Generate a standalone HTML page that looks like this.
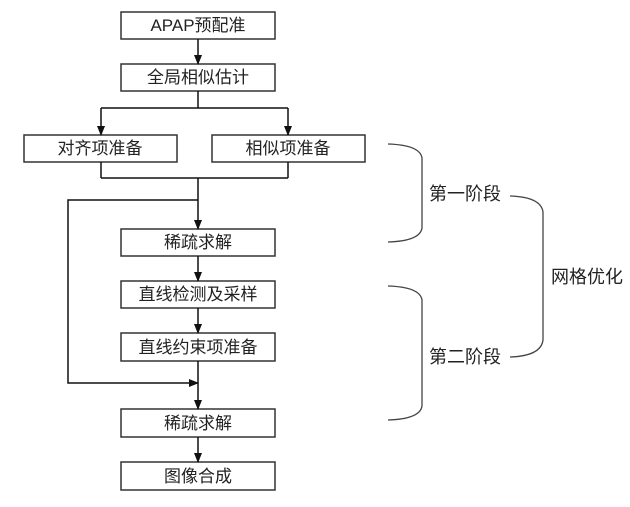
<!DOCTYPE html>
<html><head><meta charset="utf-8"><style>
html,body{margin:0;padding:0;background:#fff;width:630px;height:507px;overflow:hidden}
svg text{font-family:"Liberation Sans","Noto Sans CJK SC",sans-serif;fill:#222}
</style></head><body>
<svg width="630" height="507" viewBox="0 0 630 507" xmlns="http://www.w3.org/2000/svg">
<defs><marker id="a" markerWidth="10" markerHeight="10" refX="9" refY="5" orient="auto" markerUnits="userSpaceOnUse"><path d="M0,1 L10,5 L0,9 z" fill="#111"/></marker></defs>
<g fill="#fff" stroke="#333" stroke-width="1.5">
<rect x="121" y="12" width="154" height="27"/>
<rect x="121" y="64" width="154" height="27"/>
<rect x="24" y="135" width="153" height="27"/>
<rect x="212" y="135" width="153" height="27"/>
<rect x="121" y="229" width="154" height="27"/>
<rect x="121" y="281" width="154" height="27"/>
<rect x="121" y="333" width="154" height="28"/>
<rect x="121" y="409" width="154" height="28"/>
<rect x="121" y="462" width="154" height="28"/>
</g>
<g stroke="#111" stroke-width="1.5" fill="none">
<line x1="198" y1="39" x2="198" y2="64" marker-end="url(#a)"/>
<line x1="198" y1="91" x2="198" y2="108"/>
<line x1="101" y1="108" x2="288" y2="108"/>
<line x1="101" y1="108" x2="101" y2="135" marker-end="url(#a)"/>
<line x1="288" y1="108" x2="288" y2="135" marker-end="url(#a)"/>
<line x1="101" y1="162" x2="101" y2="178"/>
<line x1="288" y1="162" x2="288" y2="178"/>
<line x1="101" y1="178" x2="288" y2="178"/>
<line x1="198" y1="178" x2="198" y2="229" marker-end="url(#a)"/>
<polyline points="198,200 68,200 68,383 198,383" marker-end="url(#a)"/>
<line x1="198" y1="256" x2="198" y2="281" marker-end="url(#a)"/>
<line x1="198" y1="308" x2="198" y2="333" marker-end="url(#a)"/>
<line x1="198" y1="361" x2="198" y2="409" marker-end="url(#a)"/>
<line x1="198" y1="437" x2="198" y2="462" marker-end="url(#a)"/>
</g>
<g stroke="#444" stroke-width="1.3" fill="none">
<path d="M388,144 Q420,145 422,158 L422,228 Q420,241 388,242"/>
<path d="M388,286 Q420,287 422,300 L422,406 Q420,419 388,420"/>
<path d="M510,196 Q541,197 543,212 L543,340 Q541,356 510,357"/>
</g>
<g font-size="17" text-anchor="middle">
<text x="198" y="31">APAP预配准</text>
<text x="198" y="83">全局相似估计</text>
<text x="100" y="154">对齐项准备</text>
<text x="288" y="154">相似项准备</text>
<text x="198" y="248">稀疏求解</text>
<text x="198" y="300">直线检测及采样</text>
<text x="198" y="353">直线约束项准备</text>
<text x="198" y="429">稀疏求解</text>
<text x="198" y="482">图像合成</text>
</g>
<g font-size="18">
<text x="429" y="200">第一阶段</text>
<text x="429" y="363">第二阶段</text>
<text x="551" y="283">网格优化</text>
</g>
</svg>
</body></html>
